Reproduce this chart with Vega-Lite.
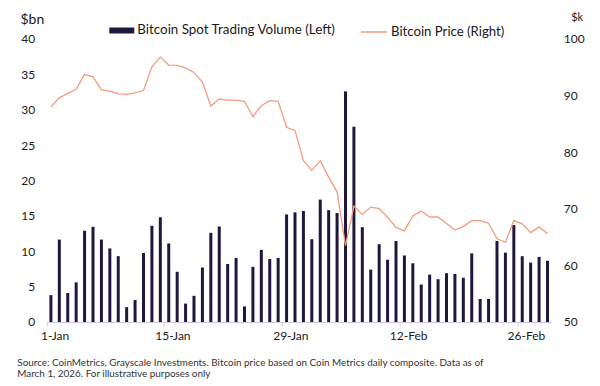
{
  "$schema": "https://vega.github.io/schema/vega-lite/v6.json",
  "width": 505,
  "height": 283,
  "autosize": {"type": "none"},
  "padding": {"left": 46.7, "top": 39, "right": 48.3, "bottom": 64.3},
  "background": "white",
  "config": {
    "view": {"stroke": null},
    "font": "Lato",
    "axis": {"labelFont": "Lato", "titleFont": "Lato", "grid": false, "labelColor": "#1a1a1a", "titleColor": "#1a1a1a"},
    "legend": {"labelFont": "Lato", "labelColor": "#1a1a1a", "labelLimit": 0}
  },
  "title": {
    "text": ["Source: CoinMetrics, Grayscale Investments. Bitcoin price based on Coin Metrics daily composite. Data as of", "March 1, 2026. For illustrative purposes only"],
    "orient": "bottom",
    "anchor": "start",
    "frame": "group",
    "dx": -29.4,
    "offset": 16,
    "fontSize": 9.9,
    "fontWeight": "normal",
    "color": "#333333",
    "lineHeight": 11.5,
    "font": "Lato"
  },
  "data": {
    "values": [
      {"date": "2026-01-01", "volume": 3.8, "price": 88.0},
      {"date": "2026-01-02", "volume": 11.65, "price": 89.6},
      {"date": "2026-01-03", "volume": 4.1, "price": 90.4},
      {"date": "2026-01-04", "volume": 5.6, "price": 91.1},
      {"date": "2026-01-05", "volume": 12.9, "price": 93.75},
      {"date": "2026-01-06", "volume": 13.45, "price": 93.3},
      {"date": "2026-01-07", "volume": 11.65, "price": 91.0},
      {"date": "2026-01-08", "volume": 10.4, "price": 90.8},
      {"date": "2026-01-09", "volume": 9.3, "price": 90.3},
      {"date": "2026-01-10", "volume": 2.1, "price": 90.2},
      {"date": "2026-01-11", "volume": 3.1, "price": 90.5},
      {"date": "2026-01-12", "volume": 9.75, "price": 90.9},
      {"date": "2026-01-13", "volume": 13.6, "price": 95.1},
      {"date": "2026-01-14", "volume": 14.8, "price": 96.8},
      {"date": "2026-01-15", "volume": 11.1, "price": 95.4},
      {"date": "2026-01-16", "volume": 7.1, "price": 95.35},
      {"date": "2026-01-17", "volume": 2.6, "price": 94.9},
      {"date": "2026-01-18", "volume": 3.7, "price": 94.1},
      {"date": "2026-01-19", "volume": 7.7, "price": 92.4},
      {"date": "2026-01-20", "volume": 12.6, "price": 88.15},
      {"date": "2026-01-21", "volume": 13.5, "price": 89.4},
      {"date": "2026-01-22", "volume": 8.2, "price": 89.2},
      {"date": "2026-01-23", "volume": 9.05, "price": 89.2},
      {"date": "2026-01-24", "volume": 2.2, "price": 89.0},
      {"date": "2026-01-25", "volume": 7.8, "price": 86.3},
      {"date": "2026-01-26", "volume": 10.2, "price": 88.2},
      {"date": "2026-01-27", "volume": 8.9, "price": 89.1},
      {"date": "2026-01-28", "volume": 9.05, "price": 89.0},
      {"date": "2026-01-29", "volume": 15.2, "price": 84.4},
      {"date": "2026-01-30", "volume": 15.5, "price": 83.8},
      {"date": "2026-01-31", "volume": 15.7, "price": 78.5},
      {"date": "2026-02-01", "volume": 11.7, "price": 76.8},
      {"date": "2026-02-02", "volume": 17.3, "price": 78.5},
      {"date": "2026-02-03", "volume": 15.8, "price": 75.6},
      {"date": "2026-02-04", "volume": 15.4, "price": 73.0},
      {"date": "2026-02-05", "volume": 32.6, "price": 63.5},
      {"date": "2026-02-06", "volume": 27.6, "price": 70.5},
      {"date": "2026-02-07", "volume": 13.4, "price": 69.0},
      {"date": "2026-02-08", "volume": 7.4, "price": 70.3},
      {"date": "2026-02-09", "volume": 11.0, "price": 70.05},
      {"date": "2026-02-10", "volume": 8.8, "price": 68.5},
      {"date": "2026-02-11", "volume": 11.45, "price": 66.7},
      {"date": "2026-02-12", "volume": 9.4, "price": 66.1},
      {"date": "2026-02-13", "volume": 8.3, "price": 68.75},
      {"date": "2026-02-14", "volume": 5.3, "price": 69.6},
      {"date": "2026-02-15", "volume": 6.7, "price": 68.55},
      {"date": "2026-02-16", "volume": 6.05, "price": 68.55},
      {"date": "2026-02-17", "volume": 6.9, "price": 67.4},
      {"date": "2026-02-18", "volume": 6.8, "price": 66.25},
      {"date": "2026-02-19", "volume": 6.25, "price": 66.9},
      {"date": "2026-02-20", "volume": 9.7, "price": 67.9},
      {"date": "2026-02-21", "volume": 3.25, "price": 67.9},
      {"date": "2026-02-22", "volume": 3.25, "price": 67.45},
      {"date": "2026-02-23", "volume": 11.45, "price": 64.7},
      {"date": "2026-02-24", "volume": 9.8, "price": 64.1},
      {"date": "2026-02-25", "volume": 13.7, "price": 67.9},
      {"date": "2026-02-26", "volume": 9.3, "price": 67.35},
      {"date": "2026-02-27", "volume": 8.4, "price": 65.8},
      {"date": "2026-02-28", "volume": 9.2, "price": 66.8},
      {"date": "2026-03-01", "volume": 8.65, "price": 65.6}
    ]
  },
  "encoding": {
    "x": {
      "field": "date",
      "type": "ordinal",
      "scale": {"paddingInner": 0, "paddingOuter": 0},
      "axis": {
        "title": null,
        "values": ["2026-01-01", "2026-01-15", "2026-01-29", "2026-02-12", "2026-02-26"],
        "labelExpr": "utcFormat(toDate(datum.value), '%-d-%b')",
        "bandPosition": 0,
        "labelOffset": 4.2,
        "labelAngle": 0,
        "labelFontSize": 12,
        "labelPadding": 5,
        "domainColor": "#cdc6e2",
        "tickColor": "#cdc6e2",
        "tickSize": 4
      }
    }
  },
  "layer": [
    {
      "mark": {"type": "bar", "size": 3},
      "encoding": {
        "y": {
          "field": "volume",
          "type": "quantitative",
          "scale": {"domain": [0, 40], "nice": false},
          "axis": {
            "title": "$bn",
            "titleAngle": 0,
            "titleAlign": "left",
            "titleBaseline": "alphabetic",
            "titleX": -26.7,
            "titleY": -15,
            "titleFontSize": 14,
            "titleFontWeight": "normal",
            "values": [0, 5, 10, 15, 20, 25, 30, 35, 40],
            "ticks": false,
            "domain": false,
            "labelPadding": 12,
            "labelFontSize": 12
          }
        },
        "fill": {
          "datum": "Bitcoin Spot Trading Volume (Left)",
          "scale": {"range": ["#21163d"]},
          "legend": {
            "orient": "none",
            "legendX": 62.6,
            "legendY": -21,
            "title": null,
            "padding": 0,
            "symbolType": "M-1,-0.24L1,-0.24L1,0.24L-1,0.24Z",
            "symbolSize": 625,
            "symbolStrokeWidth": 0,
            "labelFontSize": 13.4,
            "labelOffset": 3,
            "labelLimit": 0
          }
        }
      }
    },
    {
      "mark": {"type": "line", "strokeWidth": 1.3},
      "encoding": {
        "y": {
          "field": "price",
          "type": "quantitative",
          "scale": {"domain": [50, 100], "nice": false},
          "axis": {
            "orient": "right",
            "title": "$k",
            "titleAngle": 0,
            "titleAlign": "left",
            "titleBaseline": "alphabetic",
            "titleX": 19,
            "titleY": -18,
            "titleFontSize": 11,
            "titleFontWeight": "normal",
            "values": [50, 60, 70, 80, 90, 100],
            "ticks": false,
            "domain": false,
            "labelPadding": 11.6,
            "labelFontSize": 12
          }
        },
        "stroke": {
          "datum": "Bitcoin Price (Right)",
          "scale": {"range": ["#f59b7c"]},
          "legend": {
            "orient": "none",
            "legendX": 313.3,
            "legendY": -21,
            "title": null,
            "padding": 0,
            "symbolType": "stroke",
            "symbolSize": 676,
            "symbolStrokeWidth": 1.5,
            "labelFontSize": 13.2,
            "labelOffset": 3,
            "labelLimit": 0
          }
        }
      }
    }
  ],
  "resolve": {"scale": {"y": "independent"}}
}
